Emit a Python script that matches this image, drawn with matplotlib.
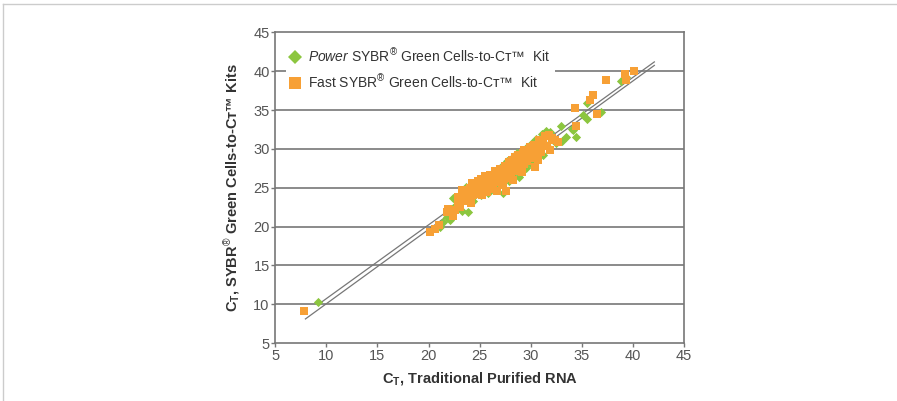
import numpy as np
import matplotlib.pyplot as plt
from matplotlib.lines import Line2D

plt.rcParams['font.family'] = ['Liberation Sans', 'DejaVu Sans']
plt.rcParams['mathtext.fontset'] = 'custom'
plt.rcParams['mathtext.rm'] = 'Liberation Sans'
plt.rcParams['mathtext.it'] = 'Liberation Sans:italic'
plt.rcParams['mathtext.bf'] = 'Liberation Sans:bold'

# Power SYBR Green Cells-to-CT (verde)
power_x = [9.2, 21.1, 21.4, 21.8, 22.1, 22.4, 22.6, 23.0, 23.3, 23.7, 23.9, 24.0, 24.2, 24.3,
           24.4, 24.6, 24.8, 25.0, 25.1, 25.2, 25.3, 25.5, 25.6, 25.7, 25.8, 25.9, 26.0, 26.1,
           26.2, 26.3, 26.4, 26.5, 26.6, 26.7, 26.8, 26.9, 27.0, 27.1, 27.2, 27.3, 27.4, 27.5,
           27.6, 27.7, 27.8, 27.9, 27.9, 28.0, 28.0, 28.1, 28.2, 28.3, 28.4, 28.5, 28.6, 28.7,
           28.8, 28.9, 29.0, 29.1, 29.2, 29.3, 29.4, 29.5, 29.6, 29.7, 29.8, 29.9, 30.0, 30.1,
           30.2, 30.4, 30.5, 30.6, 30.8, 31.0, 31.1, 31.2, 31.4, 31.5, 31.6, 31.7, 31.9, 32.2,
           32.5, 33.0, 33.1, 33.5, 34.0, 34.1, 34.4, 35.1, 35.5, 35.5, 36.9, 38.8, 39.3]
power_y = [10.3, 20.0, 20.6, 21.2, 20.9, 23.7, 22.6, 23.2, 22.0, 25.1, 21.9, 23.8, 24.6, 25.0,
           23.3, 25.3, 24.2, 25.8, 24.0, 25.5, 25.1, 26.3, 24.6, 26.1, 24.3, 25.7, 26.7, 26.4,
           25.2, 26.0, 24.7, 27.0, 25.6, 27.3, 26.4, 27.4, 25.9, 26.8, 27.8, 24.3, 27.6, 26.5,
           27.1, 28.4, 28.0, 26.9, 25.8, 27.5, 28.5, 28.4, 26.6, 28.9, 27.9, 28.8, 27.3, 29.5,
           28.3, 26.4, 29.2, 27.8, 29.6, 28.7, 29.7, 27.6, 30.2, 28.9, 29.9, 28.2, 28.4, 30.8,
           29.6, 30.5, 31.3, 29.1, 30.1, 31.0, 31.9, 29.2, 30.6, 32.3, 31.8, 30.2, 32.2, 31.4,
           30.8, 33.0, 31.0, 31.5, 32.5, 32.4, 31.5, 34.4, 35.9, 33.8, 34.8, 38.7, 39.2]

# Fast SYBR Green Cells-to-CT (naranja)
fast_x = [7.8, 20.1, 20.6, 21.0, 21.8, 21.9, 22.2, 22.4, 22.6, 22.9, 22.9, 23.1, 23.3, 23.4,
          23.5, 23.6, 23.8, 23.9, 24.1, 24.2, 24.3, 24.4, 24.5, 24.6, 24.7, 24.8, 24.9, 25.0,
          25.1, 25.2, 25.2, 25.3, 25.4, 25.5, 25.6, 25.6, 25.7, 25.8, 25.9, 25.9, 26.0, 26.1,
          26.2, 26.3, 26.3, 26.4, 26.5, 26.6, 26.6, 26.7, 26.8, 26.9, 27.0, 27.0, 27.1, 27.2,
          27.3, 27.3, 27.4, 27.5, 27.5, 27.6, 27.7, 27.8, 27.8, 27.9, 28.0, 28.1, 28.1, 28.2,
          28.3, 28.4, 28.4, 28.5, 28.6, 28.7, 28.7, 28.8, 28.9, 29.0, 29.0, 29.1, 29.2, 29.3,
          29.3, 29.4, 29.5, 29.6, 29.8, 29.9, 30.0, 30.2, 30.3, 30.4, 30.5, 30.7, 30.8, 30.9,
          31.0, 31.2, 31.4, 31.6, 31.8, 31.9, 32.1, 32.4, 32.7, 34.3, 34.4, 35.8, 36.05, 36.5,
          37.4, 39.2, 39.3, 40.1]
fast_y = [9.1, 19.3, 19.7, 20.2, 21.9, 22.3, 21.9, 21.3, 22.1, 23.2, 23.8, 22.5, 24.7, 24.0,
          23.6, 23.3, 24.4, 23.8, 24.9, 23.0, 25.6, 24.0, 24.2, 25.1, 24.4, 25.9, 24.6, 25.3,
          26.1, 24.1, 25.8, 25.7, 24.8, 26.5, 25.3, 26.2, 24.5, 26.0, 25.1, 24.8, 26.7, 25.5,
          24.9, 26.3, 25.0, 25.7, 27.1, 26.0, 26.9, 24.55, 26.7, 25.9, 27.4, 26.0, 26.3, 25.6,
          27.0, 25.3, 26.1, 27.8, 26.4, 24.6, 26.8, 27.3, 26.2, 28.3, 26.6, 27.6, 26.8, 28.6,
          26.0, 27.9, 28.4, 28.9, 27.2, 28.3, 27.5, 29.2, 27.7, 28.6, 28.0, 27.0, 29.5, 28.1,
          29.9, 28.9, 29.8, 28.5, 29.3, 30.2, 28.8, 29.7, 30.5, 27.7, 29.4, 28.6, 31.2, 30.1,
          29.6, 30.9, 31.6, 30.4, 31.8, 29.9, 31.4, 31.1, 30.9, 35.3, 32.9, 36.3, 36.9, 34.5,
          38.9, 39.7, 38.9, 40.0]

# lineas de tendencia (extremos)
power_fit_x = [9.4, 42.1]
power_fit_y = [10.15, 41.2]
fast_fit_x = [7.95, 42.1]
fast_fit_y = [8.1, 40.75]

x_ticks = [5, 10, 15, 20, 25, 30, 35, 40, 45]
y_ticks = [5, 10, 15, 20, 25, 30, 35, 40, 45]

verde = '#8cc63f'
naranja = '#f7a035'
gris = '#8a8a8a'

fig = plt.figure(figsize=(8.97, 4.01), dpi=100)
ax = fig.add_axes([0.3069, 0.1446, 0.4556, 0.7746])

for y in y_ticks[1:-1]:
    ax.axhline(y, color=gris, lw=1.4, zorder=0)

ax.plot(power_fit_x, power_fit_y, color='#777777', lw=0.9, zorder=1)
ax.plot(fast_fit_x, fast_fit_y, color='#777777', lw=0.9, zorder=1)

ax.scatter(power_x, power_y, marker='D', s=22, color=verde, linewidths=0, zorder=2)
ax.scatter(fast_x, fast_y, marker='s', s=28, color=naranja, linewidths=0, zorder=3)

ax.set_xlim(5, 45)
ax.set_ylim(5, 45)
ax.set_xticks(x_ticks)
ax.set_yticks(y_ticks)
ax.tick_params(labelsize=10.5, labelcolor='#555555', color='#777777', length=3, width=1, pad=1)
for s in ax.spines.values():
    s.set_color('#777777')
    s.set_linewidth(1.2)

ax.set_xlabel(r'$\mathbf{C_T}$, Traditional Purified RNA', fontsize=10.5, fontweight='bold',
              color='#333333', labelpad=5)
ax.set_ylabel(r'$\mathbf{C_T}$, SYBR$^{®}$ Green Cells-to-Cᴛ™ Kits',
              fontsize=10.5, fontweight='bold', color='#333333', labelpad=8)

handles = [
    Line2D([], [], marker='D', color=verde, ls='none', markersize=7.5, markeredgewidth=0),
    Line2D([], [], marker='s', color=naranja, ls='none', markersize=8, markeredgewidth=0),
]
labels = [
    r'$\mathit{Power}$ SYBR$^{®}$ Green Cells-to-Cᴛ™  Kit',
    r'Fast SYBR$^{®}$ Green Cells-to-Cᴛ™  Kit',
]
leg = ax.legend(handles, labels, loc='upper left', bbox_to_anchor=(0.025, 0.965), frameon=True,
                fontsize=10, handlelength=0.8, handletextpad=0.5, labelspacing=0.55,
                borderpad=0.3, borderaxespad=0)
leg.get_frame().set_edgecolor('none')
leg.get_frame().set_facecolor('white')
leg.get_frame().set_alpha(1)
for t in leg.get_texts():
    t.set_color('#333333')

# marco de la imagen
fig.add_artist(Line2D([0.0033, 1], [0.99, 0.99], transform=fig.transFigure, color='#cccccc', lw=1))
fig.add_artist(Line2D([0.0033, 0.0033], [0, 0.99], transform=fig.transFigure, color='#cccccc', lw=1))

fig.savefig('out.png', dpi=100)
